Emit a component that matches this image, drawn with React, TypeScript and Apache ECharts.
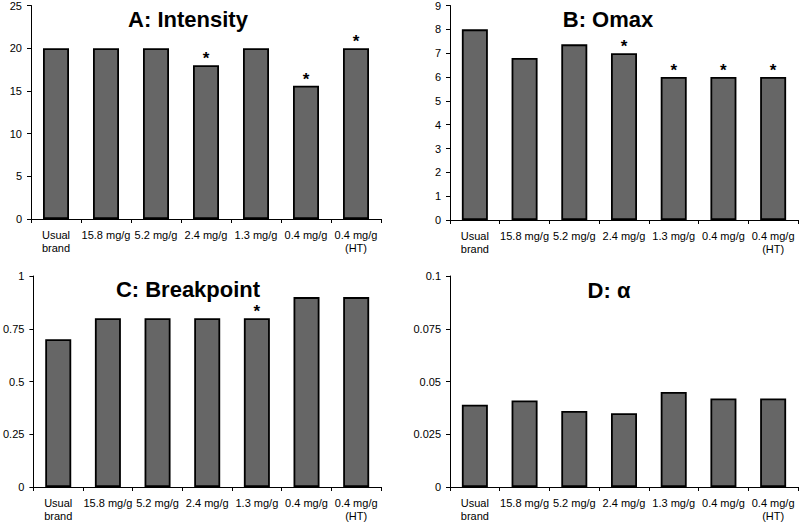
import React, { useEffect, useRef } from "react";
import * as echarts from "echarts";

const categories = ["Usual\nbrand", "15.8 mg/g", "5.2 mg/g", "2.4 mg/g", "1.3 mg/g", "0.4 mg/g", "0.4 mg/g\n(HT)"];

const intensityValues = [20, 20, 20, 18, 20, 15.6, 20];
const intensitySig = [false, false, false, true, false, true, true];

const omaxValues = [8, 6.8, 7.37, 7.0, 6, 6, 6];
const omaxSig = [false, false, false, true, true, true, true];

const breakpointValues = [0.7, 0.8, 0.8, 0.8, 0.8, 0.9, 0.9];
const breakpointSig = [false, false, false, false, true, false, false];

const alphaValues = [0.039, 0.041, 0.036, 0.035, 0.045, 0.042, 0.042];
const alphaSig = [false, false, false, false, false, false, false];

const titles = ["A: Intensity", "B: Omax", "C: Breakpoint", "D: α"];
const yMax = [25, 9, 1, 0.1];
const yInterval = [5, 1, 0.25, 0.025];

const FONT = "'Liberation Sans', Arial, sans-serif";

export default function App() {
  const ref = useRef<HTMLDivElement>(null);
  useEffect(() => {
    if (!ref.current) return;
    const chart = echarts.init(ref.current, null, { renderer: "svg" });
    const grids = [
      { left: 31, top: 5, width: 350, height: 214 },
      { left: 450, top: 5, width: 348, height: 215 },
      { left: 31, top: 276, width: 350, height: 215 },
      { left: 450, top: 276, width: 348, height: 215 },
    ];
    const titlePos = [
      { left: 183, top: 3 },
      { left: 603, top: 3 },
      { left: 183, top: 273 },
      { left: 604, top: 274 },
    ];
    const allValues = [intensityValues, omaxValues, breakpointValues, alphaValues];
    const allSig = [intensitySig, omaxSig, breakpointSig, alphaSig];

    const option: any = {
      animation: false,
      backgroundColor: "#fff",
      title: titles.map((t, i) => ({
        text: t,
        left: titlePos[i].left,
        top: titlePos[i].top,
        textAlign: "center",
        textStyle: { fontFamily: FONT, fontSize: 22, fontWeight: "bold", color: "#000" },
      })),
      grid: grids,
      xAxis: grids.map((_, i) => ({
        type: "category",
        gridIndex: i,
        data: categories,
        axisLine: { lineStyle: { color: "#000", width: 1 } },
        axisTick: { show: true, alignWithLabel: false, length: 4, lineStyle: { color: "#000" } },
        axisLabel: {
          interval: 0,
          margin: 9,
          color: "#000",
          fontFamily: FONT,
          fontSize: 11,
          lineHeight: 13,
        },
      })),
      yAxis: grids.map((_, i) => ({
        type: "value",
        gridIndex: i,
        min: 0,
        max: yMax[i],
        interval: yInterval[i],
        splitLine: { show: false },
        axisLine: { show: true, lineStyle: { color: "#000", width: 1 } },
        axisTick: { show: true, length: 4, lineStyle: { color: "#000" } },
        axisLabel: { color: "#000", fontFamily: FONT, fontSize: 11, margin: 9 },
      })),
      series: allValues.map((vals, i) => ({
        type: "bar",
        xAxisIndex: i,
        yAxisIndex: i,
        barWidth: 26,
        itemStyle: { color: "#666666", borderColor: "#000", borderWidth: 1.8 },
        data: vals.map((v, j) => ({
          value: v,
          label: {
            show: allSig[i][j],
            position: "top",
            distance: -2,
            formatter: "*",
            color: "#000",
            fontFamily: FONT,
            fontSize: 17,
            fontWeight: "bold",
          },
        })),
      })),
    };
    chart.setOption(option);
    return () => chart.dispose();
  }, []);
  return <div ref={ref} style={{ width: 800, height: 522, position: "absolute", left: 0, top: 0 }} />;
}
